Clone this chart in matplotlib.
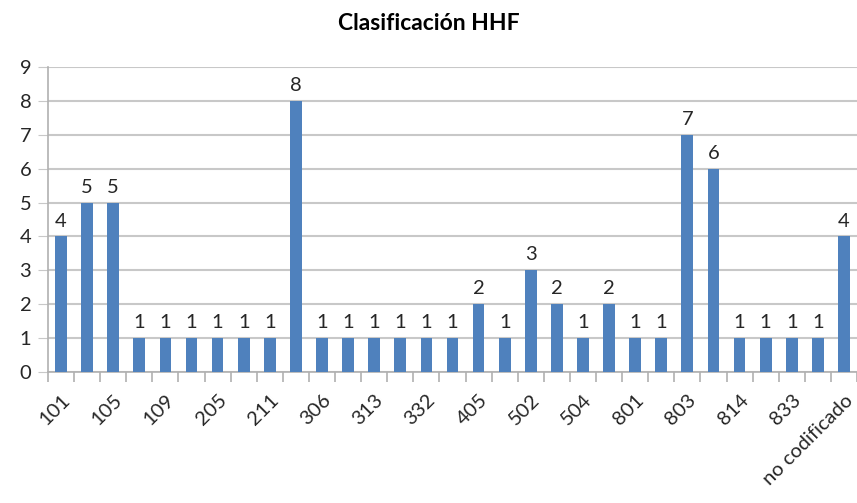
import numpy as np
import matplotlib.pyplot as plt

plt.rcParams['font.family'] = ['Lato', 'DejaVu Sans']

# hidden tick labels (every other category) are not readable in the source
tick_labels = ['101', '', '105', '', '109', '', '205', '', '211', '', '306', '',
               '313', '', '332', '', '405', '', '502', '', '504', '', '801', '',
               '803', '', '814', '', '833', '', 'no codificado']
counts = [4, 5, 5, 1, 1, 1, 1, 1, 1, 8, 1, 1, 1, 1, 1, 1,
          2, 1, 3, 2, 1, 2, 1, 1, 7, 6, 1, 1, 1, 1, 4]

fig = plt.figure(figsize=(8.57, 5.03), dpi=100)
ax = fig.add_axes([0.056, 0.2604, 0.944, 0.6064])

x = np.arange(len(counts))
bars = ax.bar(x, counts, width=0.45, color='#4f81bd', zorder=3)
for xi, v in zip(x, counts):
    ax.annotate(str(v), (xi, v), xytext=(0, 5), textcoords='offset points',
                ha='center', va='bottom', fontsize=14.5, color='#262626')

ax.set_xlim(-0.5, len(counts) - 0.5)
ax.set_ylim(0, 9)
ax.set_yticks(range(0, 10))
ax.yaxis.grid(True, color='#c8c8c8', linewidth=1.5, zorder=0)
ax.tick_params(axis='y', length=7, color='#c8c8c8', labelsize=14.5, pad=5,
               labelcolor='#262626')

# category ticks sit on the boundaries, labels at the centres
ax.set_xticks(np.arange(-0.5, len(counts)), minor=False)
ax.set_xticklabels([])
ax.set_xticks(x, minor=True)
ax.set_xticklabels(tick_labels, minor=True, rotation=45, ha='right',
                   rotation_mode='anchor', fontsize=14.5, color='#262626')
ax.tick_params(axis='x', which='major', length=7, color='#b0b0b0', width=1.2)
ax.tick_params(axis='x', which='minor', length=0, pad=14)

for side in ['top', 'right']:
    ax.spines[side].set_visible(False)
for side in ['left', 'bottom']:
    ax.spines[side].set_color('#b0b0b0')
    ax.spines[side].set_linewidth(1.2)

fig.suptitle('Clasificación HHF', x=0.5, y=0.975, fontsize=16.5, fontweight='bold')

fig.savefig('out.png', dpi=100)
